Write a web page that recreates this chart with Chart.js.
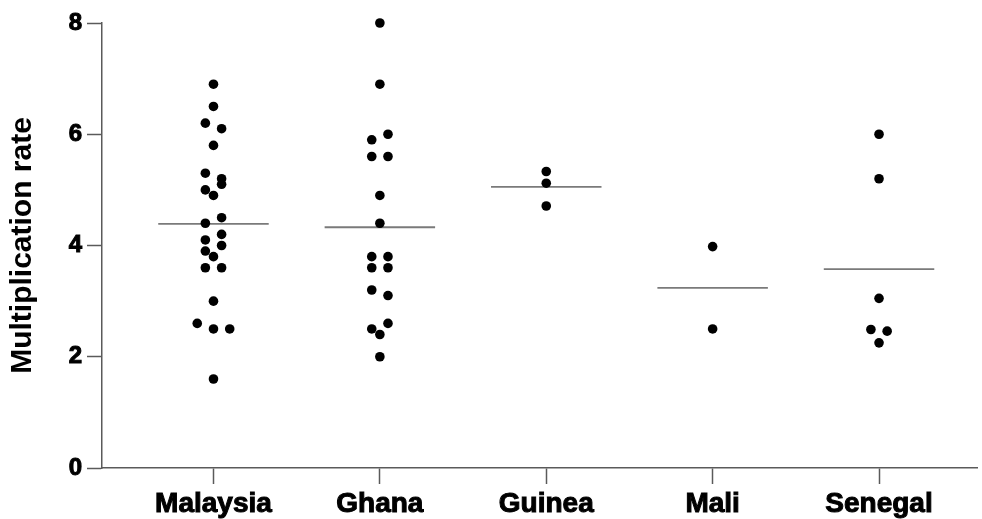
<!DOCTYPE html>
<html>
<head>
<meta charset="utf-8">
<script src="https://cdn.jsdelivr.net/npm/chart.js@4/dist/chart.umd.min.js"></script>
<style>
  html, body { margin: 0; padding: 0; background: #fff; }
  #wrap { width: 982px; height: 519px; }
</style>
</head>
<body>
<div id="wrap"><canvas id="c" width="982" height="519"></canvas></div>
<script>
// Multiplication rate per isolate, grouped by country of origin
const categories = ['Malaysia', 'Ghana', 'Guinea', 'Mali', 'Senegal'];
const malaysia = [6.9, 6.5, 6.2, 6.1, 5.8, 5.3, 5.2, 5.0, 5.1, 4.9, 4.4, 4.5, 4.1, 4.2, 3.9, 4.0, 3.8, 3.6, 3.6, 3.0, 2.6, 2.5, 2.5, 1.6];
const ghana = [8.0, 6.9, 5.9, 6.0, 5.6, 5.6, 4.9, 4.4, 3.8, 3.8, 3.6, 3.6, 3.2, 3.1, 2.5, 2.6, 2.4, 2.0];
const guinea = [5.33, 5.12, 4.71];
const mali = [3.98, 2.5];
const senegal = [6.0, 5.2, 3.05, 2.49, 2.46, 2.25];
const yTicks = [0, 2, 4, 6, 8];

const groups = [malaysia, ghana, guinea, mali, senegal];

// Layout settings for the dot columns
const ROW_TOL = 0.15;      // values closer than this share a row
const LANE_STEP = 0.0976;  // horizontal spacing between dots in one row (category units)
const MEAN_HALF = 0.332;   // half width of the mean bar

// Spread dots that share a row symmetrically around the category centre
function swarm(values, center) {
  const idx = values.map((v, i) => i).sort((a, b) => values[b] - values[a]);
  const pts = [];
  let row = [];
  const flush = () => {
    row.sort((a, b) => a - b);
    row.forEach((i, k) => {
      pts.push({ x: center + (k - (row.length - 1) / 2) * LANE_STEP, y: values[i] });
    });
    row = [];
  };
  idx.forEach(i => {
    if (row.length && values[row[0]] - values[i] > ROW_TOL + 1e-9) flush();
    row.push(i);
  });
  if (row.length) flush();
  return pts;
}

const mean = a => a.reduce((s, v) => s + v, 0) / a.length;

const points = [];
groups.forEach((g, i) => points.push(...swarm(g, i)));

const meanSets = groups.map((g, i) => ({
  type: 'line',
  data: [{ x: i - MEAN_HALF, y: mean(g) }, { x: i + MEAN_HALF, y: mean(g) }],
  borderColor: '#7a7a7a',
  borderWidth: 1.8,
  pointRadius: 0,
  fill: false,
  order: 2,
  clip: false
}));

const AXIS = '#5a5a5a';
const FONT = '"Liberation Sans", Arial, sans-serif';

new Chart(document.getElementById('c'), {
  type: 'scatter',
  data: {
    datasets: [{
      data: points,
      backgroundColor: '#000',
      borderWidth: 0,
      pointRadius: 4.8,
      pointHoverRadius: 4.8,
      order: 1,
      clip: false
    }, ...meanSets]
  },
  options: {
    responsive: false,
    animation: false,
    layout: { padding: { top: 23, right: 2, left: 0, bottom: 0 } },
    plugins: { legend: { display: false }, tooltip: { enabled: false } },
    scales: {
      x: {
        type: 'linear',
        min: -0.67,
        max: 4.59,
        afterBuildTicks: axis => { axis.ticks = categories.map((c, i) => ({ value: i })); },
        afterFit: scale => { scale.height = 51; },
        ticks: {
          autoSkip: false,
          maxRotation: 0,
          minRotation: 0,
          padding: 3,
          color: '#000',
          textStrokeColor: '#000',
          textStrokeWidth: 1,
          font: { family: FONT, size: 28, weight: 'bold' },
          callback: v => categories[v]
        },
        grid: { drawOnChartArea: false, drawTicks: true, tickLength: 16, color: AXIS, tickColor: AXIS, tickWidth: 1.5 },
        border: { display: true, color: AXIS, width: 1.5 }
      },
      y: {
        min: 0,
        max: 8,
        afterBuildTicks: axis => { axis.ticks = yTicks.map(v => ({ value: v })); },
        afterFit: scale => { scale.width = 102; },
        ticks: {
          padding: 5,
          color: '#000',
          textStrokeColor: '#000',
          textStrokeWidth: 1,
          font: { family: FONT, size: 24, weight: 'bold' }
        },
        grid: { drawOnChartArea: false, drawTicks: true, tickLength: 15, color: AXIS, tickColor: AXIS, tickWidth: 1.5 },
        border: { display: true, color: AXIS, width: 1.5 },
        title: {
          display: true,
          text: 'Multiplication rate',
          color: '#000',
          padding: { top: 5, bottom: 0 },
          font: { family: FONT, size: 30, weight: 'bold' }
        }
      }
    }
  }
});
</script>
</body>
</html>
